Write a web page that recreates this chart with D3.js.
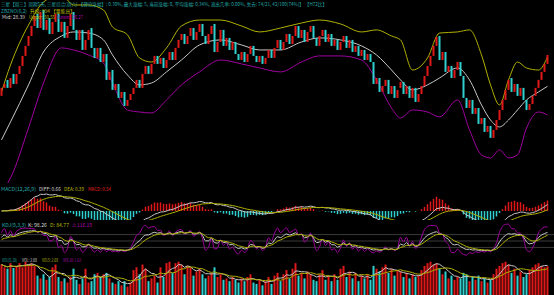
<!DOCTYPE html>
<html><head>
<meta charset="utf-8">
<script src="https://d3js.org/d3.v7.min.js"></script>
<style>
body { margin:0; background:#000; }
svg { display:block; background:#000; font-family:"Noto Sans CJK SC","DejaVu Sans",sans-serif; }
</style>
</head>
<body>
<svg id="chart" width="554" height="295"></svg>
<script>
// candles (price)
const opens = [27.68,28.27,28.86,28.27,29.30,28.56,29.30,29.89,30.63,31.37,
  32.10,32.84,33.73,32.69,34.02,32.55,33.43,32.25,33.14,33.73,
  32.40,33.14,31.96,32.84,33.87,32.55,31.81,32.55,31.07,31.81,
  32.69,31.22,30.48,31.22,30.18,30.77,28.86,29.59,28.12,28.56,
  27.53,27.97,26.94,27.38,27.82,28.27,28.86,28.27,29.30,29.89,
  29.30,30.04,30.63,30.04,30.48,29.74,30.33,30.92,30.33,31.22,
  31.81,32.25,31.51,32.10,32.69,31.81,32.40,32.99,32.10,31.51,
  32.25,32.99,30.92,31.66,32.55,31.37,31.96,31.07,31.66,30.77,
  30.33,30.92,30.18,30.77,31.37,30.63,30.18,30.63,30.04,30.48,
  31.07,30.48,31.22,31.81,31.07,31.66,32.25,31.51,32.10,32.84,
  31.96,32.55,31.66,32.40,32.84,31.96,31.37,32.10,32.55,31.66,
  32.25,31.37,31.81,31.07,31.66,32.10,31.22,31.81,30.92,31.37,
  30.63,31.07,30.33,30.77,30.18,28.56,29.00,27.97,28.41,28.86,
  27.82,28.41,27.53,28.27,28.71,27.82,28.41,27.53,28.27,27.23,
  27.82,28.41,29.15,29.89,30.63,31.37,32.10,30.33,30.92,29.45,
  29.89,29.00,29.59,30.18,29.15,27.53,26.79,27.38,26.35,26.79,
  25.61,26.05,25.02,25.46,24.58,25.17,25.90,26.64,27.38,28.12,
  29.00,27.97,28.56,27.68,28.27,27.38,26.64,27.08,27.68,28.27,
  28.86,29.45,30.04];
const closes = [28.27,28.56,28.27,29.00,28.56,29.30,29.89,30.63,31.37,32.10,
  32.84,33.58,32.69,33.87,32.55,33.28,32.25,33.14,33.73,32.40,
  33.14,31.96,32.84,33.73,32.55,31.81,32.55,31.07,31.81,32.55,
  31.22,30.48,31.22,30.18,30.77,28.86,29.45,28.12,28.56,27.53,
  27.97,26.94,27.38,27.82,28.27,28.86,28.27,29.30,29.89,29.30,
  30.04,30.63,30.04,30.48,29.74,30.33,30.92,30.33,31.22,31.81,
  32.25,31.51,32.10,32.69,31.81,32.40,32.99,32.10,31.51,32.25,
  32.84,30.92,31.66,32.55,31.37,31.96,31.07,31.66,30.77,30.33,
  30.92,30.18,30.77,31.37,30.63,30.18,30.63,30.04,30.48,31.07,
  30.48,31.22,31.81,31.07,31.66,32.25,31.51,32.10,32.84,31.96,
  32.55,31.66,32.40,32.84,31.96,31.37,32.10,32.55,31.66,32.25,
  31.37,31.81,31.07,31.66,32.10,31.22,31.81,30.92,31.37,30.63,
  31.07,30.33,30.77,30.18,28.56,29.00,27.97,28.41,28.86,27.82,
  28.41,27.53,28.12,28.71,27.82,28.41,27.53,28.27,27.23,27.82,
  28.41,29.15,29.89,30.63,31.37,32.03,30.33,30.92,29.45,29.89,
  29.00,29.59,30.18,29.15,27.53,26.79,27.38,26.35,26.79,25.61,
  26.05,25.02,25.46,24.58,25.17,25.90,26.64,27.38,28.12,28.86,
  27.97,28.56,27.68,28.27,27.38,26.64,27.08,27.68,28.27,28.86,
  29.45,30.04,30.70];
const volumes = [2.2,2.0,1.9,2.3,1.95,2.1,2.3,2.0,2.4,2.2,2.3,2.1,
  1.4,1.2,1.5,1.1,1.3,2.0,2.2,1.3,
  1.0,1.2,0.9,1.3,1.9,1.1,0.8,1.2,1.9,0.9,
  1.0,1.5,1.6,1.3,1.5,1.6,1.2,0.9,0.8,1.0,0.7,1.0,0.6,0.9,1.8,
  2.0,1.5,2.2,1.9,1.0,
  1.2,1.4,0.9,2.0,
  1.3,2.3,2.4,1.6,2.3,2.4,2.2,1.5,2.1,
  2.0,1.4,1.7,1.9,
  1.5,1.2,1.4,1.6,2.0,1.3,1.5,1.1,1.2,1.0,1.3,1.1,0.9,1.2,
  1.0,1.3,1.5,0.9,0.8,1.1,0.7,1.0,1.3,0.8,1.4,1.6,1.0,1.5,1.8,
  1.2,1.9,2.3,1.4,1.6,1.2,1.7,1.5,1.1,1.0,1.5,1.8,1.1,1.4,1.0,
  1.5,1.1,1.9,2.1,1.3,1.7,1.2,1.6,1.0,1.4,1.2,1.5,1.1,
  2.1,1.9,1.7,2.0,2.2,1.6,1.9,1.4,1.8,1.7,1.3,1.6,1.2,1.5,1.3,1.4,
  1.8,2.1,2.3,2.4,2.2,2.3,
  1.9,1.5,1.7,1.2,1.4,1.1,1.3,1.2,1.6,1.5,1.0,1.3,1.1,1.4,1.0,1.2,0.9,1.1,
  1.5,1.9,2.1,2.3,2.4,2.2,1.6,1.9,1.4,1.7,1.3,1.5,1.8,2.0,2.2,2.3,2.1,2.0,2.08];

// Bollinger band read at these candle indices
const bandIdx = [0,3,9,14,20,24,29,34,37,42,46,50,55,60,66,73,80,86,93,100,106,113,120,125,130,133,137,142,146,152,156,160,163,166,169,172,175,179,182];
const bandUpper = [27.97,29.96,32.91,34.61,35.13,34.39,34.39,34.02,32.77,32.18,30.48,30.18,31.22,32.84,33.28,33.28,32.84,32.40,32.69,33.06,33.28,32.99,32.40,32.55,32.10,31.81,29.59,30.48,32.32,32.40,32.55,30.70,28.49,27.01,28.86,30.18,29.74,29.59,30.55];
const bandMid = [24.43,25.76,28.49,30.92,32.10,32.40,32.32,31.81,30.70,29.22,28.49,28.63,29.45,30.33,31.44,31.81,31.44,31.07,31.07,31.66,31.96,31.81,31.37,30.70,29.59,28.86,28.12,28.49,29.00,29.74,28.86,27.01,25.90,25.39,25.90,26.64,27.38,27.97,28.39];
const bandLower = [20.59,21.62,25.31,28.63,31.22,31.07,30.70,30.11,28.63,26.64,26.49,26.42,27.38,28.49,29.45,30.33,30.04,29.74,29.45,30.18,30.63,30.63,30.33,28.86,26.79,26.05,26.64,26.49,26.13,27.38,25.17,23.32,23.10,23.69,23.10,23.32,25.31,26.49,26.27];

const headLine1 = "三星【周三】周期5天, 三星综合(周六)  【理论涨幅】: 0.30%, 最大涨幅: 5, 当前涨幅: 0, 平均涨幅: 0.34%, 流出几率: 0.00%, 失去: 74/21, 42/100(74%)】 【H72比】";
// [text, colour, x, width]
const headLine2 = [["ZBZNO(6,2)", "#20a8a8", 1, 26], ["升级: 994  【量能出】", "#b8b800", 30, 45]];
const bollLabels = [["Mid: 28.39", "#d0d0d0", 2, 23], ["Upper: 30.55", "#b8b800", 29, 26], ["Lower: 26.27", "#b000b0", 58, 25]];
const macdLabels = [["MACD(12,26,9)", "#20a8a8", 1, 35], ["DIFF: 0.66", "#d0d0d0", 39, 22], ["DEA: 0.39", "#b8b800", 64, 20], ["MACD: 0.54", "#e02020", 88, 23]];
const kdjLabels = [["KDJ(9,3,3)", "#20a8a8", 2, 24], ["K: 98.26", "#d0d0d0", 28, 19], ["D: 84.77", "#b8b800", 50, 19], ["J: 116.19", "#b000b0", 72, 20]];
const volLabels = [["VOL(5,10)", "#20a8a8", 2, 15], ["VOL: 2.08", "#d0d0d0", 22, 15], ["VOL5: 2.08", "#b8b800", 42, 16], ["VOL10: 1.62", "#b000b0", 63, 18]];

const RED = "#e01818", CYAN = "#30d0d0", WHITE = "#c8c8c8", YELLOW = "#b0b000", PURPLE = "#a000a0";

let svg = d3.select("svg#chart");
const n = closes.length;
const x = d3.scaleLinear().domain([0, n - 1]).range([1.5, 547.5]);
const isUp = i => closes[i] >= opens[i];

// clip areas for panels
const defs = svg.append("defs");
function clip(id, y0, y1) {
  defs.append("clipPath").attr("id", id).append("rect").attr("x", 0).attr("y", y0).attr("width", 554).attr("height", y1 - y0);
}
clip("cMain", 0, 183);
clip("cMacd", 192, 220);
clip("cKdj", 223, 256);
clip("cVol", 258, 295);

// ---- main panel
const yPrice = d3.scaleLinear().domain([21.47, 34.61]).range([180, 2]);
let main = svg.append("g").attr("clip-path", "url(#cMain)");

const bandLine = arr => d3.line().x((d, k) => x(bandIdx[k])).y((d, k) => yPrice(arr[k])).curve(d3.curveMonotoneX)(arr);
[[bandUpper, YELLOW], [bandMid, WHITE], [bandLower, PURPLE]].forEach(b => {
  main.append("path").attr("d", bandLine(b[0])).attr("fill", "none").attr("stroke", b[1]).attr("stroke-width", 1);
});

d3.range(n).forEach(i => {
  const top = yPrice(Math.max(opens[i], closes[i]));
  const bot = yPrice(Math.min(opens[i], closes[i]));
  main.append("rect")
    .attr("x", x(i) - 1).attr("y", top)
    .attr("width", 2).attr("height", Math.max(1, bot - top))
    .attr("fill", isUp(i) ? RED : CYAN);
});

// ---- MACD
const ema = (arr, p) => { const k = 2 / (p + 1); const out = []; arr.forEach((v, i) => out.push(i ? out[i - 1] + k * (v - out[i - 1]) : v)); return out; };
const e12 = ema(closes, 12), e26 = ema(closes, 26);
const diff = closes.map((c, i) => e12[i] - e26[i]);
const dea = ema(diff, 9);
const macd = diff.map((d, i) => 2 * (d - dea[i]));
const mMax = d3.max(diff.concat(dea, macd));
const yMacd = d3.scaleLinear().domain([0, mMax]).range([211, 194]);
let mg = svg.append("g").attr("clip-path", "url(#cMacd)");
d3.range(n).forEach(i => {
  mg.append("rect")
    .attr("x", x(i) - 0.75).attr("width", 1.5)
    .attr("y", Math.min(yMacd(0), yMacd(macd[i])))
    .attr("height", Math.abs(yMacd(macd[i]) - yMacd(0)))
    .attr("fill", macd[i] >= 0 ? RED : CYAN);
});
[[diff, WHITE], [dea, YELLOW]].forEach(s => {
  mg.append("path").attr("d", d3.line().x((d, i) => x(i)).y(d => yMacd(d))(s[0]))
    .attr("fill", "none").attr("stroke", s[1]).attr("stroke-width", 1);
});

// ---- KDJ
const hi = opens.map((o, i) => Math.max(o, closes[i]));
const lo = opens.map((o, i) => Math.min(o, closes[i]));
let K = [], D = [], J = [];
closes.forEach((c, i) => {
  const s = Math.max(0, i - 8);
  const hh = d3.max(hi.slice(s, i + 1)), ll = d3.min(lo.slice(s, i + 1));
  const rsv = hh > ll ? (c - ll) / (hh - ll) * 100 : 50;
  const kp = i ? K[i - 1] : 50, dp = i ? D[i - 1] : 50;
  K.push(kp * 2 / 3 + rsv / 3);
  D.push(dp * 2 / 3 + K[i] / 3);
  J.push(3 * K[i] - 2 * D[i]);
});
const yKdj = d3.scaleLinear().domain([-20, 120]).range([256, 226]);
let kg = svg.append("g").attr("clip-path", "url(#cKdj)");
[20, 50, 80].forEach(v => {
  kg.append("line").attr("x1", 0).attr("x2", 554).attr("y1", yKdj(v)).attr("y2", yKdj(v))
    .attr("stroke", "#3a3a3a").attr("stroke-width", 1);
});
[[J, PURPLE], [K, WHITE], [D, YELLOW]].forEach(s => {
  kg.append("path").attr("d", d3.line().x((d, i) => x(i)).y(d => yKdj(d)).curve(d3.curveMonotoneX)(s[0]))
    .attr("fill", "none").attr("stroke", s[1]).attr("stroke-width", 1);
});

// ---- VOL
const yVol = d3.scaleLinear().domain([0, 2.6]).range([295, 259]);
let vg = svg.append("g").attr("clip-path", "url(#cVol)");
volumes.forEach((v, i) => {
  vg.append("rect").attr("x", x(i) - 1).attr("width", 2)
    .attr("y", yVol(v)).attr("height", yVol(0) - yVol(v))
    .attr("fill", isUp(i) ? RED : CYAN);
});
const ma = p => volumes.map((v, i) => d3.mean(volumes.slice(Math.max(0, i - p + 1), i + 1)));
[[ma(5), WHITE], [ma(10), YELLOW]].forEach(s => {
  vg.append("path").attr("d", d3.line().x((d, i) => x(i)).y(d => yVol(d))(s[0]))
    .attr("fill", "none").attr("stroke", s[1]).attr("stroke-width", 1);
});

// ---- texts
svg.append("text").attr("x", 1).attr("y", 5.5).attr("font-size", 5)
  .attr("fill", "#20a8a8").attr("textLength", 326).attr("lengthAdjust", "spacingAndGlyphs")
  .text(headLine1);

function labels(parts, y, size) {
  parts.forEach(p => {
    svg.append("text").attr("x", p[2]).attr("y", y).attr("font-size", size)
      .attr("fill", p[1]).attr("textLength", p[3]).attr("lengthAdjust", "spacingAndGlyphs")
      .text(p[0]);
  });
}
labels(headLine2, 12.5, 5);
labels(bollLabels, 18.5, 5);
labels(macdLabels, 190.5, 5.2);
labels(kdjLabels, 226.5, 5.2);
labels(volLabels, 262, 4.6);
</script>
</body>
</html>
